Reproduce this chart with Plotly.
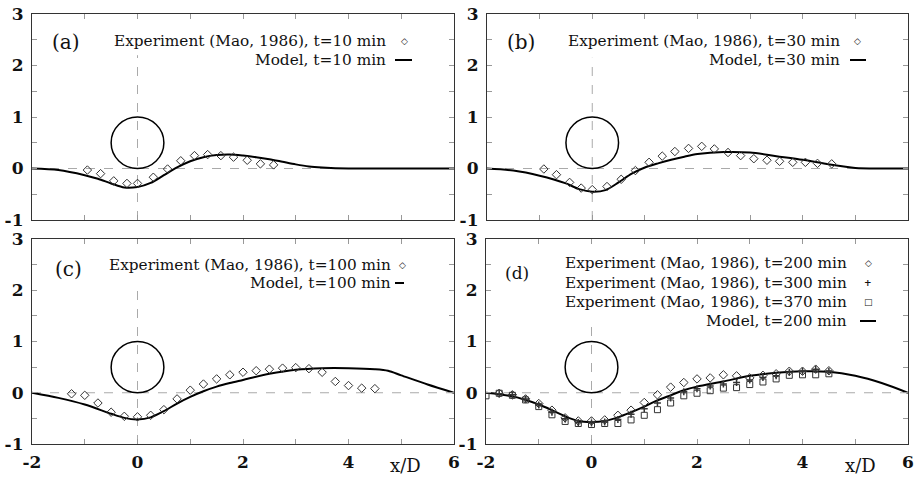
import plotly.graph_objects as go

# ---------------- data ----------------
a_exp_x = [-0.95, -0.7, -0.45, -0.2, 0.0, 0.3, 0.57, 0.82, 1.08, 1.33, 1.58, 1.82, 2.08, 2.33, 2.58]
a_exp_y = [-0.03, -0.10, -0.24, -0.29, -0.29, -0.17, -0.01, 0.15, 0.25, 0.27, 0.25, 0.22, 0.16, 0.09, 0.07]
a_model_x = [-2, -1.5, -1, -0.75, -0.5, -0.25, 0, 0.25, 0.5, 0.75, 1, 1.25, 1.5, 1.75, 2, 2.25, 2.5, 2.75, 3, 3.25, 3.5, 4, 5, 6]
a_model_y = [0, -0.03, -0.13, -0.2, -0.29, -0.37, -0.36, -0.28, -0.13, 0.02, 0.14, 0.22, 0.26, 0.27, 0.25, 0.22, 0.18, 0.13, 0.08, 0.04, 0.02, 0, 0, 0]

b_exp_x = [-0.92, -0.68, -0.43, -0.21, 0.0, 0.28, 0.55, 0.82, 1.08, 1.33, 1.57, 1.83, 2.08, 2.32, 2.58, 2.82, 3.07, 3.32, 3.56, 3.81, 4.05, 4.28, 4.55]
b_exp_y = [-0.01, -0.12, -0.27, -0.38, -0.41, -0.35, -0.21, -0.04, 0.12, 0.24, 0.33, 0.39, 0.43, 0.38, 0.31, 0.25, 0.19, 0.16, 0.14, 0.12, 0.12, 0.10, 0.09]
b_model_x = [-2, -1.5, -1, -0.5, -0.25, 0, 0.25, 0.5, 0.75, 1, 1.25, 1.5, 1.75, 2, 2.5, 3, 3.5, 4, 4.5, 5, 5.5, 6]
b_model_y = [0, -0.04, -0.14, -0.29, -0.40, -0.45, -0.42, -0.27, -0.10, 0.02, 0.10, 0.17, 0.23, 0.28, 0.32, 0.31, 0.24, 0.17, 0.08, 0.01, 0, 0]

c_exp_x = [-1.25, -1.0, -0.75, -0.5, -0.25, 0.0, 0.25, 0.5, 0.75, 1.0, 1.25, 1.5, 1.75, 2.0, 2.25, 2.5, 2.75, 3.0, 3.25, 3.5, 3.75, 4.0, 4.25, 4.5]
c_exp_y = [-0.02, -0.05, -0.2, -0.38, -0.46, -0.47, -0.44, -0.33, -0.12, 0.05, 0.17, 0.27, 0.35, 0.4, 0.43, 0.46, 0.48, 0.49, 0.47, 0.4, 0.22, 0.14, 0.09, 0.08]
c_model_x = [-2, -1.5, -1, -0.5, -0.25, 0, 0.25, 0.5, 0.75, 1, 1.25, 1.5, 1.75, 2, 2.5, 3, 3.5, 4, 4.5, 4.75, 5, 5.5, 6]
c_model_y = [0, -0.1, -0.23, -0.41, -0.49, -0.52, -0.48, -0.36, -0.21, -0.08, 0.03, 0.12, 0.19, 0.25, 0.37, 0.45, 0.48, 0.48, 0.46, 0.43, 0.34, 0.16, 0]

d_exp200_x = [-1.75, -1.5, -1.25, -1.0, -0.75, -0.5, -0.25, 0.0, 0.25, 0.5, 0.75, 1.0, 1.25, 1.5, 1.75, 2.0, 2.25, 2.5, 2.75, 3.0, 3.25, 3.5, 3.75, 4.0, 4.25, 4.5]
d_exp200_y = [-0.01, -0.04, -0.12, -0.21, -0.34, -0.49, -0.55, -0.55, -0.53, -0.44, -0.34, -0.19, -0.04, 0.11, 0.2, 0.27, 0.29, 0.35, 0.33, 0.29, 0.34, 0.37, 0.42, 0.42, 0.46, 0.43]
d_exp300_x = [-1.75, -1.5, -1.25, -1.0, -0.75, -0.5, -0.25, 0.0, 0.25, 0.5, 0.75, 1.0, 1.25, 1.5, 1.75, 2.0, 2.25, 2.5, 2.75, 3.0, 3.25, 3.5, 3.75, 4.0, 4.25, 4.5]
d_exp300_y = [-0.02, -0.04, -0.12, -0.24, -0.38, -0.51, -0.58, -0.59, -0.57, -0.52, -0.42, -0.31, -0.2, -0.1, 0.02, 0.08, 0.13, 0.17, 0.2, 0.25, 0.3, 0.33, 0.4, 0.42, 0.46, 0.42]
d_exp370_x = [-2.0, -1.75, -1.5, -1.25, -1.0, -0.75, -0.5, -0.25, 0.0, 0.25, 0.5, 0.75, 1.0, 1.25, 1.5, 1.75, 2.0, 2.25, 2.5, 2.75, 3.0, 3.25, 3.5, 3.75, 4.0, 4.25, 4.5]
d_exp370_y = [-0.06, -0.01, -0.05, -0.14, -0.27, -0.43, -0.56, -0.6, -0.62, -0.6, -0.6, -0.53, -0.44, -0.33, -0.2, -0.06, -0.01, 0.04, 0.09, 0.1, 0.16, 0.21, 0.27, 0.34, 0.35, 0.35, 0.37]
d_model_x = [-2, -1.5, -1, -0.75, -0.5, -0.25, 0, 0.25, 0.5, 0.75, 1, 1.25, 1.5, 1.75, 2, 2.5, 3, 3.5, 4, 4.5, 5, 5.5, 6]
d_model_y = [0, -0.07, -0.23, -0.34, -0.46, -0.55, -0.57, -0.55, -0.48, -0.38, -0.27, -0.15, -0.05, 0.05, 0.12, 0.22, 0.33, 0.39, 0.42, 0.41, 0.33, 0.19, 0]

x_ticks = [-2, -1, 0, 1, 2, 3, 4, 5, 6]
x_ticktext = ["-2", "", "0", "", "2", "", "4", "", "6"]
y_ticks = [-1, -0.5, 0, 0.5, 1, 1.5, 2, 2.5, 3]
y_ticktext = ["-1", "", "0", "", "1", "", "2", "", "3"]

panel_labels = ["(a)", "(b)", "(c)", "(d)"]
legend_a = ["Experiment (Mao, 1986), t=10 min", "Model, t=10 min"]
legend_b = ["Experiment (Mao, 1986), t=30 min", "Model, t=30 min"]
legend_c = ["Experiment (Mao, 1986), t=100 min", "Model, t=100 min"]
legend_d = ["Experiment (Mao, 1986), t=200 min", "Experiment (Mao, 1986), t=300 min",
            "Experiment (Mao, 1986), t=370 min", "Model, t=200 min"]

# ---------------- figure ----------------
W, H = 915, 478
FONT = "DejaVu Serif"
MK = "#333333"
LEG_SIZE = 15.3

def px(x):
    return x / W

def py(y):
    return 1 - y / H

fig = go.Figure()

# panel frames in pixels: (left, right, top, bottom)
frames = [(32, 454, 14, 220), (487, 908, 14, 220), (32, 454, 239, 444), (486, 908, 239, 444)]

def add_exp(x, y, k, symbol, size, lw=1.0):
    sfx = "" if k == 1 else str(k)
    fig.add_trace(go.Scatter(x=x, y=y, mode="markers", xaxis="x" + sfx, yaxis="y" + sfx,
                             marker=dict(symbol=symbol, size=size, color=MK,
                                         line=dict(color=MK, width=lw)),
                             showlegend=False, hoverinfo="skip"))

def add_model(x, y, k):
    sfx = "" if k == 1 else str(k)
    fig.add_trace(go.Scatter(x=x, y=y, mode="lines", xaxis="x" + sfx, yaxis="y" + sfx,
                             line=dict(color="black", width=2, shape="spline", smoothing=0.8),
                             showlegend=False, hoverinfo="skip"))

add_model(a_model_x, a_model_y, 1)
add_exp(a_exp_x, a_exp_y, 1, "diamond-open", 6.5)
add_model(b_model_x, b_model_y, 2)
add_exp(b_exp_x, b_exp_y, 2, "diamond-open", 6.5)
add_model(c_model_x, c_model_y, 3)
add_exp(c_exp_x, c_exp_y, 3, "diamond-open", 6.5)
add_model(d_model_x, d_model_y, 4)
add_exp(d_exp370_x, d_exp370_y, 4, "square-open", 6)
add_exp(d_exp300_x, d_exp300_y, 4, "cross-thin-open", 5, 1.5)
add_exp(d_exp200_x, d_exp200_y, 4, "diamond-open", 6.5)

layout = dict(width=W, height=H, margin=dict(l=0, r=0, t=0, b=0),
              paper_bgcolor="white", plot_bgcolor="white",
              font=dict(family=FONT, color="#111111"), showlegend=False)

for i, (l, r, t, b) in enumerate(frames):
    k = i + 1
    sfx = "" if k == 1 else str(k)
    bottom = i >= 2
    layout["xaxis" + sfx] = dict(domain=[px(l), px(r)], range=[-2, 6], anchor="y" + sfx,
                                 tickvals=x_ticks, ticktext=x_ticktext if bottom else [""] * 9,
                                 ticks="inside", ticklen=5, tickcolor="#999999",
                                 showline=True, mirror="ticks", linecolor="#333333", linewidth=1.2,
                                 showgrid=False, zeroline=False, automargin=False,
                                 ticklabelstandoff=2,
                                 tickfont=dict(family=FONT, size=17, weight="bold", color="#111111"))
    layout["yaxis" + sfx] = dict(domain=[py(b), py(t)], range=[-1, 3], anchor="x" + sfx,
                                 tickvals=y_ticks, ticktext=y_ticktext,
                                 ticks="inside", ticklen=5, tickcolor="#999999",
                                 showline=True, mirror="ticks", linecolor="#333333", linewidth=1.2,
                                 showgrid=False, zeroline=False, ticklabelstandoff=4, automargin=False,
                                 tickfont=dict(family=FONT, size=17, weight="bold", color="#111111"))

fig.update_layout(**layout)

# dashed reference lines and cylinder circle
vtops = [2.2, 2.15, 2.15, 1.4]
shapes = []
for i in range(4):
    k = i + 1
    sfx = "" if k == 1 else str(k)
    shapes.append(dict(type="line", xref="x" + sfx, yref="y" + sfx, x0=-2, x1=6, y0=0, y1=0,
                       line=dict(color="#aaaaaa", width=1, dash="dash"), layer="below"))
    shapes.append(dict(type="line", xref="x" + sfx, yref="y" + sfx, x0=0, x1=0, y0=-1, y1=vtops[i],
                       line=dict(color="#aaaaaa", width=1, dash="dash"), layer="below"))
    shapes.append(dict(type="circle", xref="x" + sfx, yref="y" + sfx, x0=-0.5, x1=0.5, y0=0, y1=1,
                       line=dict(color="black", width=1.5)))

annotations = []

def txt(x, y, s, size=LEG_SIZE, xanchor="right", weight="normal"):
    annotations.append(dict(xref="paper", yref="paper", x=px(x), y=py(y), text=s, showarrow=False,
                            xanchor=xanchor, yanchor="middle",
                            font=dict(family=FONT, size=size, color="#111111", weight=weight)))

def keyline(x0, x1, y):
    shapes.append(dict(type="line", xref="paper", yref="paper", x0=px(x0), x1=px(x1), y0=py(y), y1=py(y),
                       line=dict(color="black", width=2)))

# panel labels
txt(66, 42, panel_labels[0], size=20, xanchor="center")
txt(521, 42, panel_labels[1], size=20, xanchor="center")
txt(68, 269, panel_labels[2], size=20, xanchor="center")
txt(517, 273, panel_labels[3], size=17, xanchor="center")

# legends (text + key)
txt(388, 41, legend_a[0]); txt(404, 41, "◇", size=9, xanchor="center")
txt(388, 60, legend_a[1]); keyline(395, 412, 60)
txt(842, 41, legend_b[0]); txt(857, 41, "◇", size=9, xanchor="center")
txt(842, 60, legend_b[1]); keyline(850, 866, 60)
txt(393, 265, legend_c[0]); txt(402, 265, "◇", size=9, xanchor="center")
txt(393, 283, legend_c[1]); keyline(395, 404, 283)
txt(849, 263, legend_d[0]); txt(868, 263, "◇", size=9, xanchor="center")
txt(849, 283, legend_d[1]); txt(868, 283, "+", size=9, xanchor="center", weight="bold")
txt(849, 302, legend_d[2]); txt(868, 302, "□", size=9, xanchor="center")
txt(849, 321, legend_d[3]); keyline(860, 876, 321)

# x-axis labels
txt(405, 465, "x/D", size=18, xanchor="center")
txt(860, 465, "x/D", size=18, xanchor="center")

fig.update_layout(shapes=shapes, annotations=annotations)
fig.write_html("out.html", config={"displayModeBar": False},
               post_script="document.body.style.margin='0';document.body.style.overflow='hidden';")
